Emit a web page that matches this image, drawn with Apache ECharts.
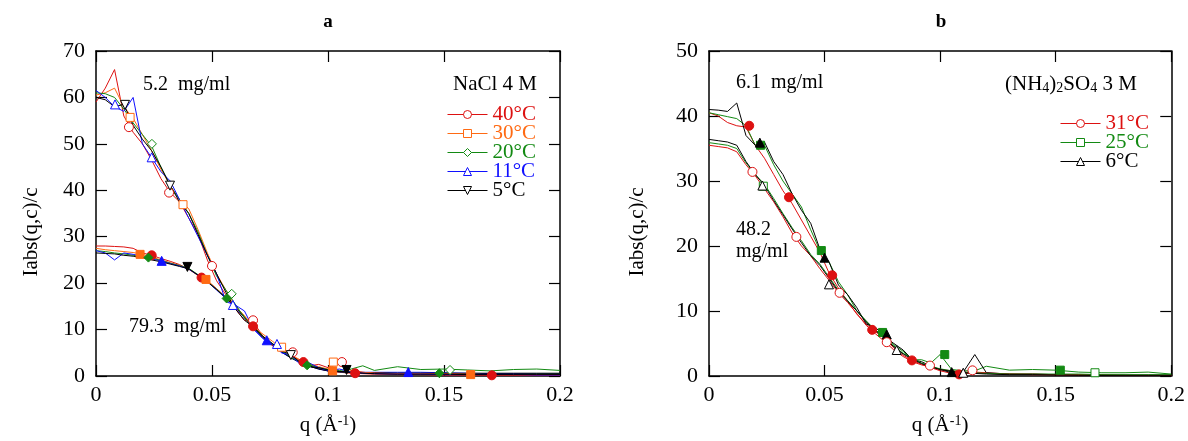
<!DOCTYPE html>
<html><head><meta charset="utf-8">
<script src="https://cdn.jsdelivr.net/npm/echarts@6/dist/echarts.min.js"></script>
<style>html,body{margin:0;padding:0;background:#fff}#c{width:1188px;height:441px}</style>
</head><body><div id="c"></div>
<script>
// ---------- DATA ----------
const qGrid = [0,0.004,0.008,0.012,0.016,0.02,0.024,0.028,0.032,0.036,0.04,0.044,0.048,0.052,0.056,0.06,0.064,0.068,0.072,0.076,0.08,0.084,0.088,0.092,0.096,0.1,0.105,0.11,0.115,0.12,0.13,0.14,0.15,0.16,0.17,0.18,0.19,0.2];
const xTicks = [0, 0.05, 0.1, 0.15, 0.2];

// Panel a, NaCl 4 M, 5.2 mg/ml
const a52_40 = [59,62,66,56,52.5,50,46.5,42.5,39.5,37.5,34,30.5,25,20.5,17.5,14.5,12,11.5,8.5,6.5,6,4.5,3.3,2.2,2.5,1.8,3.2,1.2,0.8,0.6,0.5,0.4,0.5,0.3,0.3,0.3,0.2,0.2];
const a52_30 = [60.5,61,62,58,55.5,52,48.5,44.5,41,38,36,31.5,26.5,22,18.5,15,13,10.5,9,7.5,6,4.5,3.5,2.6,2,1.5,3,1,0.8,0.6,0.5,0.5,0.4,0.4,0.3,0.3,0.3,0.3];
const a52_20 = [61,60.8,60,57.5,54.5,52,49.5,45,41,38,35,31,26,21.5,18.5,15.5,12.5,10.5,8.5,7,5.5,4,3,2.4,1.8,1.4,1.2,1.5,2.2,1.2,2,1.4,1.5,1.3,1.1,1.4,1.5,1.2];
const a52_11 = [61.5,60,58,57,60,50,47,44,42,38,34,30,26,22,16,15.3,14,10,8,6.9,5,4.5,2.5,2.8,1.8,1.2,1.5,0.8,0.6,0.5,0.4,0.4,0.3,0.3,0.3,0.3,0.2,0.2];
const a52_5  = [60,59.5,58,58.5,54,51,48.5,45,41,37.5,35,30.5,26,22,18,14.5,12,10.5,8.5,7,5.5,4.5,3,2,1.8,1.3,1,0.8,0.6,0.5,0.4,0.4,0.4,0.3,0.3,0.3,0.3,0.3];
// Panel a, 79.3 mg/ml
const a79_40 = [28,28,27.9,27.8,27.5,26.5,26,25.3,24.7,24,23,21.8,20.5,18.8,17,15,12.8,10.8,8.5,6.8,5.3,4,3,2.2,1.6,1.1,0.8,0.6,0.5,0.4,0.3,0.3,0.2,0.2,0.15,0.15,0.1,0.1];
const a79_30 = [27.5,27.2,27,26.8,26.6,26.2,25.6,25,24.4,23.8,23,21.6,20.6,18.7,16.8,15,12.8,10.4,8.4,6.8,5.3,4,3,2.2,1.6,1.1,0.9,0.7,0.6,0.5,0.4,0.4,0.35,0.3,0.3,0.3,0.25,0.25];
const a79_20 = [27,26.8,26.5,26.3,26,25.7,25.4,24.9,24.3,23.8,23.2,21.8,20.3,18.7,16.8,15.2,12.8,10.6,8.6,6.8,5.3,4,3,2.2,1.6,1.2,0.9,0.8,0.7,0.6,0.6,0.6,0.6,0.5,0.5,0.5,0.5,0.5];
const a79_11 = [27,26.5,25,26.5,26.2,25.8,25.2,24.8,24.2,23.7,23,21.7,20.3,18.5,16.7,14.8,12.5,10.2,8.2,6.6,5.1,3.9,2.9,2.1,1.5,1.1,0.9,0.8,0.8,0.8,0.8,0.8,0.7,0.6,0.5,0.5,0.4,0.4];
const a79_5  = [26.5,26.4,26.3,26,25.8,25.5,25,24.6,24.1,23.6,23.1,21.7,20.3,18.6,16.8,14.9,12.6,10.4,8.3,6.7,5.2,3.9,2.9,2.1,1.5,1.1,0.9,0.8,0.7,0.7,0.6,0.6,0.6,0.6,0.6,0.6,0.6,0.6];
// Panel a markers [q, I]
const a52_40_mk = [[0.0142,53.6],[0.0315,39.5],[0.05,23.7],[0.0677,12],[0.0848,5.1],[0.106,3]];
const a79_40_mk = [[0.024,26],[0.0455,21.2],[0.0677,10.7],[0.0894,3],[0.1117,0.6],[0.1706,0.15]];
const a52_30_mk = [[0.0147,55.7],[0.0375,36.9],[0.08,6.2],[0.1023,3]];
const a79_30_mk = [[0.019,26.2],[0.0474,20.8],[0.102,1.1],[0.1615,0.3]];
const a52_20_mk = [[0.0241,50],[0.0585,17.7],[0.1526,1.3]];
const a79_20_mk = [[0.0226,25.5],[0.0563,16.7],[0.091,2.3],[0.148,0.6]];
const a52_11_mk = [[0.0082,58.5],[0.024,47.1],[0.059,15.3],[0.078,6.9]];
const a79_11_mk = [[0.0283,24.8],[0.0736,7.7],[0.1346,0.85]];
const a52_5_mk  = [[0.0125,58.4],[0.0319,41],[0.084,4.5]];
const a79_5_mk  = [[0.0394,23.5],[0.108,1.3]];

// Panel b, (NH4)2SO4 3 M, 6.1 mg/ml
const b61_31 = [40.5,40,39,38.5,38.3,35.5,33.5,31,28.5,26.5,24,21.5,19,15.8,13.5,11.5,9.5,8,6.8,5.8,4.3,3.2,2.4,1.8,1.3,0.8,0.4,0.3,0.6,0.5,0.3,0.2,0.2,0.1,0.1,0.1,0.1,0.1];
const b61_25 = [40.5,40.2,39.9,39.6,38.5,35.5,35.5,32.5,30,28,26,22.5,19.3,17.5,14.5,12.5,10,8.5,7,6.3,4.8,3.8,2.5,2.5,2,3.3,1,0.8,0.8,1.5,0.9,1,0.9,0.6,0.5,0.5,0.6,0.3];
const b61_6  = [41,40.9,40.7,42,37,35.5,36,33,31,28,25.5,23.5,19.5,17.5,14,12.5,10.5,8,7.5,6,5,4,2.5,2.2,1.5,1,0.5,0.6,3.3,0.5,0.3,0.3,0.2,0.2,0.1,0.1,0.1,0.1];
// Panel b, 48.2 mg/ml
const b48_31 = [35.5,35.3,35.1,34.5,32.5,30.8,28.8,26.8,24.5,22,20,18.5,16.5,14.7,12.8,11.3,9.6,7.8,6.5,5.3,4,3,2.2,1.7,1.4,1,0.8,0.6,0.5,0.4,0.3,0.3,0.2,0.2,0.2,0.1,0.1,0.1];
const b48_25 = [35.9,35.7,35.5,35,32.8,31,29.5,27.3,25,22.8,20.8,18.7,17.2,15.2,13.2,11.6,10,8.4,7.1,5.9,4.6,3.5,2.7,2,1.5,1.1,0.8,0.6,0.5,0.4,0.3,0.3,0.3,0.3,0.2,0.2,0.2,0.2];
const b48_6  = [36.4,36.2,36,35.5,33,31,29.3,27,24.8,22.6,20.5,18.5,17,15,13,11.5,10,8.3,7,5.8,4.5,3.4,2.6,1.9,1.4,1,0.7,0.5,0.4,0.3,0.2,0.2,0.15,0.1,0.1,0.1,0.1,0.1];
// Panel b markers
const b61_31_mk = [[0.0174,38.5],[0.0346,27.5],[0.0533,15.5],[0.0706,7.1],[0.0878,2.4],[0.1082,0.25]];
const b61_25_mk = [[0.0223,35.5],[0.0486,19.3],[0.0751,6.7],[0.102,3.3],[0.152,0.9]];
const b61_6_mk  = [[0.022,35.9],[0.05,18.2],[0.0769,6.4],[0.105,0.6]];
const b48_31_mk = [[0.0188,31.4],[0.0378,21.4],[0.0565,12.8],[0.0769,5.2],[0.0956,1.6],[0.114,0.87]];
const b48_25_mk = [[0.0235,29.2],[0.167,0.5]];
const b48_6_mk  = [[0.0231,29.3],[0.0519,14.1],[0.0812,4],[0.11,0.5]];

const legendA = ['40°C','30°C','20°C','11°C','5°C'];
const legendB = ['31°C','25°C','6°C'];

// ---------- STYLE / BUILD ----------
const F = 'Liberation Serif';
const RED = '#dd1111', ORG = '#ff6a13', GRN = '#138a13', BLU = '#1010ff', BLK = '#000000';
const P = (q, v) => q.map((x, i) => [x, v[i]]);

function line(name, q, v, color, ax, sym, rot, z) {
  return {type:'line', name, data:P(q, v), xAxisIndex:ax, yAxisIndex:ax, showSymbol:false,
    symbol:sym, symbolRotate:rot||0, symbolSize:8, lineStyle:{color, width:1}, itemStyle:{color},
    emphasis:{disabled:true}, animation:false, silent:true, z:z||2};
}
function marks(name, data, color, ax, sym, rot, filled) {
  return {type:'scatter', name, data, xAxisIndex:ax, yAxisIndex:ax, symbol:sym, symbolRotate:rot||0,
    symbolSize: sym==='rect' ? 8 : 9, itemStyle:{color: filled ? color : '#fff', borderColor:color, borderWidth:1, opacity:1},
    emphasis:{disabled:true}, animation:false, silent:true, z:5};
}
const series = [
  line('79.3 40', qGrid, a79_40, RED, 0, 'circle'),
  line('79.3 30', qGrid, a79_30, ORG, 0, 'rect'),
  line('79.3 20', qGrid, a79_20, GRN, 0, 'diamond'),
  line('79.3 11', qGrid, a79_11, BLU, 0, 'triangle'),
  line('79.3 5',  qGrid, a79_5,  BLK, 0, 'triangle', 180),
  line('40°C', qGrid, a52_40, RED, 0, 'circle'),
  line('30°C', qGrid, a52_30, ORG, 0, 'rect'),
  line('20°C', qGrid, a52_20, GRN, 0, 'diamond'),
  line('11°C', qGrid, a52_11, BLU, 0, 'triangle'),
  line('5°C',  qGrid, a52_5,  BLK, 0, 'triangle', 180),
  marks('m1', a52_40_mk, RED, 0, 'circle', 0, false),
  marks('m2', a79_40_mk, RED, 0, 'circle', 0, true),
  marks('m3', a52_30_mk, ORG, 0, 'rect', 0, false),
  marks('m4', a79_30_mk, ORG, 0, 'rect', 0, true),
  marks('m5', a52_20_mk, GRN, 0, 'diamond', 0, false),
  marks('m6', a79_20_mk, GRN, 0, 'diamond', 0, true),
  marks('m7', a52_11_mk, BLU, 0, 'triangle', 0, false),
  marks('m8', a79_11_mk, BLU, 0, 'triangle', 0, true),
  marks('m9', a52_5_mk,  BLK, 0, 'triangle', 180, false),
  marks('m10', a79_5_mk, BLK, 0, 'triangle', 180, true),

  line('6.1 31', qGrid, b61_31, RED, 2, 'circle'),
  line('6.1 25', qGrid, b61_25, GRN, 2, 'rect'),
  line('6.1 6',  qGrid, b61_6,  BLK, 2, 'triangle'),
  line('31°C', qGrid, b48_31, RED, 2, 'circle'),
  line('25°C', qGrid, b48_25, GRN, 2, 'rect'),
  line('6°C',  qGrid, b48_6,  BLK, 2, 'triangle'),
  marks('n1', b61_31_mk, RED, 2, 'circle', 0, true),
  marks('n2', b61_25_mk, GRN, 2, 'rect', 0, true),
  marks('n3', b61_6_mk,  BLK, 2, 'triangle', 0, true),
  marks('n4', b48_31_mk, RED, 2, 'circle', 0, false),
  marks('n5', b48_25_mk, GRN, 2, 'rect', 0, false),
  marks('n6', b48_6_mk,  BLK, 2, 'triangle', 0, false)
];

const axisLine = {show:true, onZero:false, lineStyle:{color:'#000', width:1.5}};
const axisTick = {show:true, inside:true, length:11, lineStyle:{color:'#000', width:1.2}};
const lblStyle = {fontFamily:F, fontSize:22, color:'#000'};
const nameStyle = {fontFamily:F, fontSize:21, color:'#000', lineHeight:22,
  rich:{sup:{fontFamily:F, fontSize:14, color:'#000', lineHeight:10, verticalAlign:'top'}}};

function xAx(grid, pos, withLabel) {
  return {type:'value', gridIndex:grid, position:pos, min:xTicks[0], max:xTicks[xTicks.length-1], interval:xTicks[1]-xTicks[0],
    axisLine, axisTick, splitLine:{show:false},
    axisLabel:Object.assign({show:withLabel, margin:8}, lblStyle),
    name: withLabel ? 'q (Å{sup|-1})' : '', nameLocation:'middle', nameGap:38, nameTextStyle:nameStyle};
}
function yAx(grid, pos, max, withLabel) {
  return {type:'value', gridIndex:grid, position:pos, min:0, max, interval:10,
    axisLine, axisTick, splitLine:{show:false},
    axisLabel:Object.assign({show:withLabel, margin:11}, lblStyle)};
}

function legendItem(name, color, rot) {
  return {name, itemStyle:{color:'#fff', borderColor:color, borderWidth:1},
    lineStyle:{color, width:1}, textStyle:{color}, symbolRotate: rot||0};
}

function txt(text, x, y, size, extra) {
  return {type:'text', x, y, silent:true, z:20, style:Object.assign({text, fill:'#000', fontFamily:F, fontSize:size,
    textVerticalAlign:'middle'}, extra||{})};
}

const option = {
  backgroundColor:'#fff',
  animation:false,
  grid:[
    {left:96, top:51, width:464, height:328, containLabel:false},
    {left:709, top:51, width:464, height:328, containLabel:false}
  ],
  xAxis:[xAx(0,'bottom',true), xAx(0,'top',false), xAx(1,'bottom',true), xAx(1,'top',false)],
  yAxis:[yAx(0,'left',70,true), yAx(0,'right',70,false), yAx(1,'left',50,true), yAx(1,'right',50,false)],
  legend:[
    {orient:'vertical', left:447, top:104, itemWidth:40, itemHeight:10, itemGap:-2, padding:0,
      selectedMode:false, textStyle:{fontFamily:F, fontSize:21, lineHeight:19},
      data:[legendItem(legendA[0],RED), legendItem(legendA[1],ORG), legendItem(legendA[2],GRN),
            legendItem(legendA[3],BLU), legendItem(legendA[4],BLK,180)]},
    {orient:'vertical', left:1060, top:113, itemWidth:40, itemHeight:10, itemGap:-2, padding:0,
      selectedMode:false, textStyle:{fontFamily:F, fontSize:21, lineHeight:19},
      data:[legendItem(legendB[0],RED), legendItem(legendB[1],GRN), legendItem(legendB[2],BLK)]}
  ],
  graphic:[
    txt('a', 328, 22, 19, {textAlign:'center', fontWeight:'bold'}),
    txt('b', 941, 22, 19, {textAlign:'center', fontWeight:'bold'}),
    {type:'text', x:31, y:232, rotation:Math.PI/2, silent:true, z:20,
      style:{text:'Iabs(q,c)/c', fill:'#000', fontFamily:F, fontSize:21, textAlign:'center', textVerticalAlign:'middle'}},
    {type:'text', x:637, y:232, rotation:Math.PI/2, silent:true, z:20,
      style:{text:'Iabs(q,c)/c', fill:'#000', fontFamily:F, fontSize:21, textAlign:'center', textVerticalAlign:'middle'}},
    txt('5.2  mg/ml', 143, 85, 20),
    txt('79.3  mg/ml', 129, 327, 20),
    txt('NaCl 4 M', 453, 84, 21),
    txt('6.1  mg/ml', 736, 83, 20),
    txt('48.2', 736, 230, 20),
    txt('mg/ml', 736, 252, 20),
    txt('(NH{s|4}){s|2}SO{s|4} 3 M', 1005, 84, 21, {lineHeight:22,
      rich:{s:{fontFamily:F, fontSize:14, fill:'#000', lineHeight:10, verticalAlign:'bottom'}}})
  ],
  series
};
const chart = echarts.init(document.getElementById('c'));
chart.setOption(option);
</script>
</body></html>
